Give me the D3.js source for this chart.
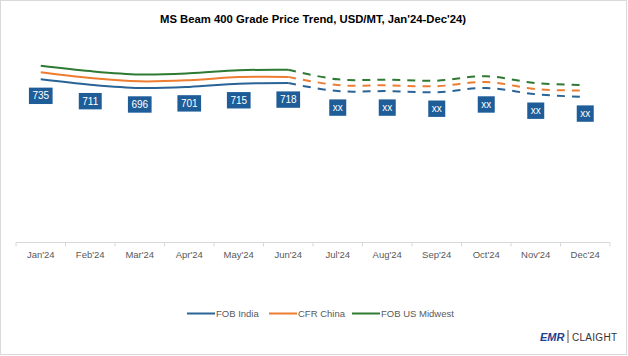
<!DOCTYPE html>
<html><head><meta charset="utf-8">
<script src="https://cdn.jsdelivr.net/npm/d3@7"></script>
<style>body{margin:0;background:#fff}svg{display:block}</style>
</head><body>
<svg id="c" width="628" height="356"></svg>
<script>
const months = ["Jan'24","Feb'24","Mar'24","Apr'24","May'24","Jun'24","Jul'24","Aug'24","Sep'24","Oct'24","Nov'24","Dec'24"];
const fobIndia = [735,711,696,701,715,718,682,682,677,696,668,655];
const cfrChina = [767,741,726,731,745,746,709,708,704,723,691,684];
const fobUSMidwest = [796,772,757,762,776,778,735,733,729,749,718,709];
const indiaLabels = ["735","711","696","701","715","718","xx","xx","xx","xx","xx","xx"];
const seriesNames = ["FOB India","CFR China","FOB US Midwest"];
const seriesColors = ["#2a6496","#ed7d31","#2e7a32"];
const actualCount = 6;
const titleText = "MS Beam 400 Grade Price Trend, USD/MT, Jan'24-Dec'24)";

const svg = d3.select("#c");
const W = 628, H = 356;
svg.append("rect").attr("x",0.5).attr("y",0.5).attr("width",W-2).attr("height",H-2)
  .attr("fill","#fff").attr("stroke","#d9d9d9");

svg.append("text").attr("x",313).attr("y",23).attr("text-anchor","middle")
  .attr("font-family","Liberation Sans, Arial, sans-serif").attr("font-weight","bold")
  .attr("font-size",11.5).attr("fill","#000")
  .attr("textLength",306).attr("lengthAdjust","spacingAndGlyphs").text(titleText);

const x = d3.scaleBand().domain(months).range([16,610]);
const y = d3.scaleLinear().domain([0,800]).range([242.5, 242.5-800*0.222]);
const cx = m => x(m) + x.bandwidth()/2;

// axis
const ax = svg.append("g").attr("transform","translate(0,242.5)");
ax.append("line").attr("x1",16).attr("x2",610).attr("stroke","#d9d9d9");
ax.selectAll("line.t").data(d3.range(months.length+1)).join("line").attr("class","t")
  .attr("x1",i=>16+i*x.bandwidth()).attr("x2",i=>16+i*x.bandwidth())
  .attr("y1",0).attr("y2",4).attr("stroke","#d9d9d9");
ax.selectAll("text").data(months).join("text")
  .attr("x",d=>cx(d)).attr("y",15).attr("text-anchor","middle")
  .attr("font-family","Liberation Sans, Arial, sans-serif").attr("font-size",9.5)
  .attr("fill","#595959").text(d=>d);

const all = [fobIndia, cfrChina, fobUSMidwest];
const line = d3.line().x(d=>cx(d.m)).y(d=>y(d.v)).curve(d3.curveCatmullRom.alpha(0.5));
all.forEach((vals,si)=>{
  const pts = vals.map((v,i)=>({m:months[i],v}));
  svg.append("path").datum(pts.slice(0,actualCount)).attr("d",line)
    .attr("fill","none").attr("stroke",seriesColors[si]).attr("stroke-width",2);
  svg.append("path").datum(pts.slice(actualCount-1)).attr("d",line)
    .attr("fill","none").attr("stroke",seriesColors[si]).attr("stroke-width",2)
    .attr("stroke-dasharray","8,7");
});

// data labels for FOB India
const lg = svg.append("g");
fobIndia.forEach((v,i)=>{
  const g = lg.append("g").attr("transform",`translate(${cx(months[i])},${y(v)+16.5})`);
  const r = g.append("rect").attr("fill","#1f5d99");
  const t = g.append("text").attr("text-anchor","middle").attr("y",3.6)
    .attr("font-family","Liberation Sans, Arial, sans-serif").attr("font-size",10)
    .attr("fill","#fff").text(indiaLabels[i]);
  const w = t.node().getComputedTextLength()+7;
  r.attr("x",-w/2).attr("y",-8.2).attr("width",w).attr("height",16.4);
});

// legend
const legendX = [187,269,352];
const leg = svg.append("g");
seriesNames.forEach((n,i)=>{
  leg.append("line").attr("x1",legendX[i]).attr("x2",legendX[i]+28).attr("y1",313.5).attr("y2",313.5)
    .attr("stroke",seriesColors[i]).attr("stroke-width",2);
  leg.append("text").attr("x",legendX[i]+29).attr("y",317)
    .attr("font-family","Liberation Sans, Arial, sans-serif").attr("font-size",9.5)
    .attr("fill","#595959").text(n);
});

// logo
const logo = svg.append("g");
logo.append("text").attr("x",540).attr("y",341).attr("font-family","Liberation Sans, Arial, sans-serif")
  .attr("font-weight","bold").attr("font-style","italic").attr("font-size",11).attr("fill","#1f3f8f").text("EMR");
logo.append("line").attr("x1",568).attr("x2",568).attr("y1",330).attr("y2",343).attr("stroke","#555").attr("stroke-width",1);
logo.append("text").attr("x",572).attr("y",341).attr("font-family","Liberation Sans, Arial, sans-serif")
  .attr("font-size",10).attr("fill","#333").attr("textLength",45).attr("lengthAdjust","spacing").text("CLAIGHT");
</script>
</body></html>
